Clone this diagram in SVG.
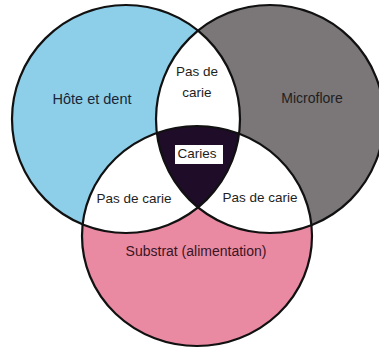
<svg xmlns="http://www.w3.org/2000/svg" width="379" height="349" viewBox="0 0 379 349">
<style>
.lbl{font-family:"Liberation Sans",Arial,Helvetica,sans-serif;font-size:13.5px;fill:#1e1e22;text-anchor:middle}
.ring{fill:none;stroke:#111;stroke-width:2.2}
</style>
<defs>
<clipPath id="cA"><circle cx="126" cy="119" r="114"/></clipPath>
<clipPath id="cB"><circle cx="270" cy="119" r="114"/></clipPath>
<clipPath id="cC"><ellipse cx="197" cy="236" rx="115" ry="110"/></clipPath>
</defs>
<rect width="379" height="349" fill="#ffffff"/>
<g id="node-hote">
<circle cx="126" cy="119" r="114" fill="#8dcfe9"/>
</g>
<g id="node-microflore">
<circle cx="270" cy="119" r="114" fill="#7b7677"/>
</g>
<g id="node-substrat">
<ellipse cx="197" cy="236" rx="115" ry="110" fill="#e98aa2"/>
</g>
<g id="node-lens-top">
<circle cx="270" cy="119" r="114" fill="#ffffff" clip-path="url(#cA)"/>
</g>
<g id="node-lens-left">
<ellipse cx="197" cy="236" rx="115" ry="110" fill="#ffffff" clip-path="url(#cA)"/>
</g>
<g id="node-lens-right">
<ellipse cx="197" cy="236" rx="115" ry="110" fill="#ffffff" clip-path="url(#cB)"/>
</g>
<g id="node-caries">
<g clip-path="url(#cA)"><ellipse cx="197" cy="236" rx="115" ry="110" fill="#1e0c28" clip-path="url(#cB)"/></g>
<rect x="175" y="145" width="48" height="19" fill="#ffffff"/>
<text class="lbl" x="197" y="158">Caries</text>
</g>
<g id="connectors">
<circle class="ring" cx="126" cy="119" r="114"/>
<circle class="ring" cx="270" cy="119" r="114"/>
<ellipse class="ring" cx="197" cy="236" rx="115" ry="110"/>
</g>
<g id="labels">
<text class="lbl" x="92" y="104" style="font-size:14.5px;fill:#1a2636">Hôte et dent</text>
<text class="lbl" x="312" y="103" style="font-size:14px">Microflore</text>
<text class="lbl" x="197" y="76">Pas de</text>
<text class="lbl" x="197" y="97">carie</text>
<text class="lbl" x="134" y="203">Pas de carie</text>
<text class="lbl" x="260" y="202">Pas de carie</text>
<text class="lbl" x="196" y="256" style="font-size:14px;fill:#3a1424">Substrat (alimentation)</text>
</g>
</svg>
